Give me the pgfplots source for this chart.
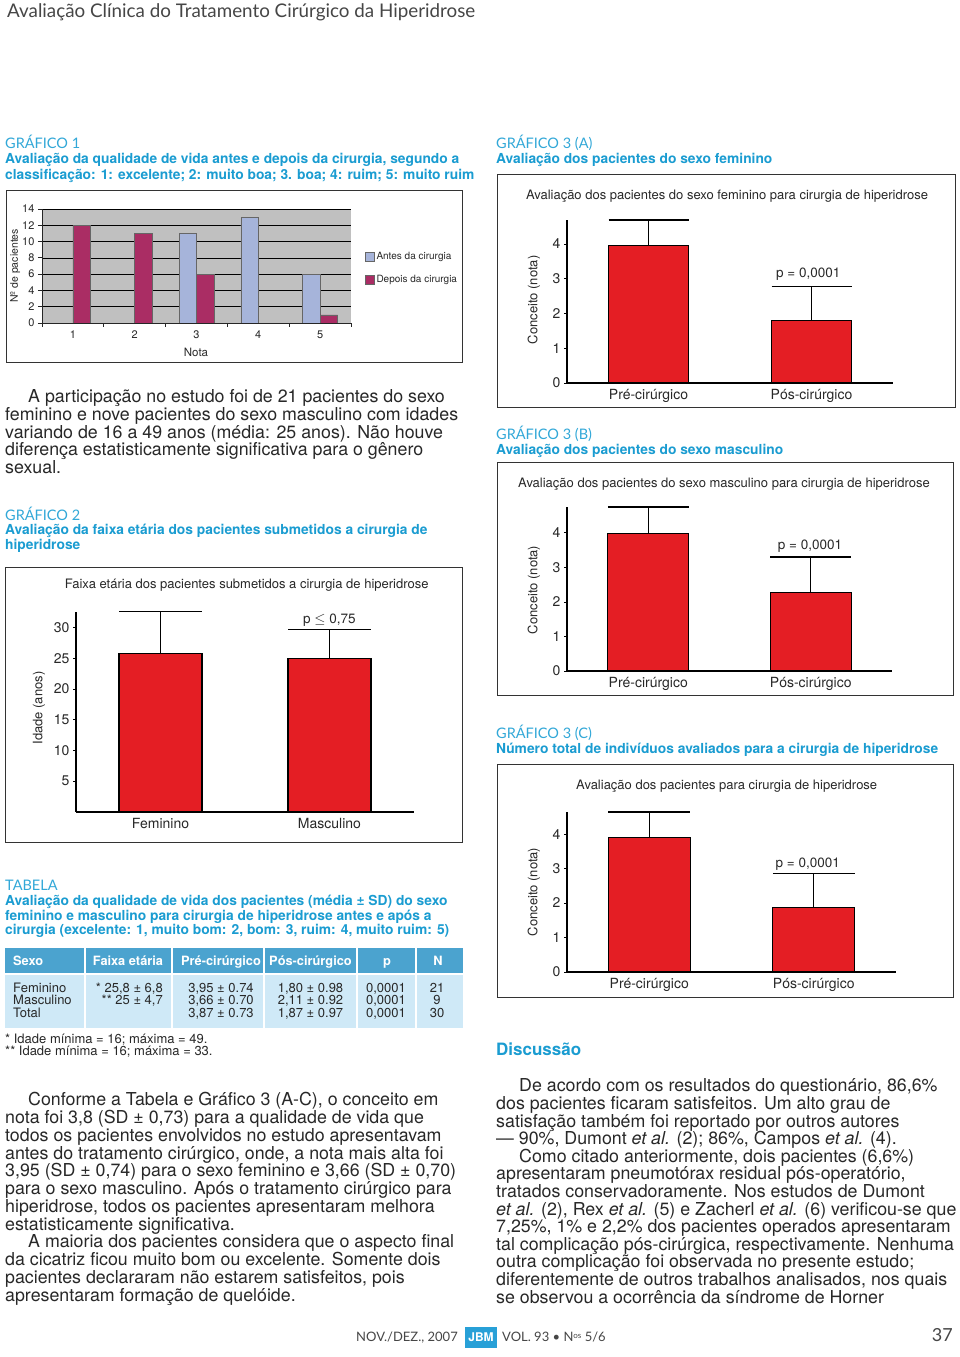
\documentclass[border=0pt]{standalone}
\usepackage{pgfplots}
\pgfplotsset{compat=1.18}
\usepackage{fontspec}
\setmainfont{TeX Gyre Heros}
\newfontfamily\headfont{Lato}
\definecolor{cyanT}{RGB}{26,156,209}
\definecolor{cyanL}{RGB}{50,168,216}
\definecolor{txt}{RGB}{40,40,40}
\definecolor{hdr}{RGB}{70,70,70}
\definecolor{barred}{RGB}{228,30,36}
\definecolor{antes}{RGB}{166,180,218}
\definecolor{depois}{RGB}{170,45,100}
\definecolor{plotgray}{RGB}{192,192,192}
\definecolor{thead}{RGB}{75,163,207}
\definecolor{tbody}{RGB}{207,233,247}
\definecolor{jbm}{RGB}{40,160,215}
\newcommand\bodyfont{\fontsize{17.8}{17.8}\selectfont}
\newcommand\capfont{\fontsize{13.8}{13.8}\selectfont\bfseries}
\newcommand\grafont{\headfont\fontsize{14.5}{14.5}\selectfont}
\newcommand\BL[3]{\node[anchor=base west,inner sep=0pt,font=\bodyfont,text=txt] at (#1pt,#2pt) {#3};}
\newcommand\CL[3]{\node[anchor=base west,inner sep=0pt,font=\capfont,text=cyanT] at (#1pt,#2pt) {#3};}
\newcommand\GL[3]{\node[anchor=base west,inner sep=0pt,font=\grafont,text=cyanL] at (#1pt,#2pt) {#3};}
\pgfplotsset{
  redbars/.style={
    scale only axis, anchor=south west,
    axis x line*=bottom, axis y line*=left,
    axis line style={line width=1.8pt, -, black},
    ymin=0, xmin=0.5, xmax=2.5,
    ybar, xtick={1,2},
    tick align=outside, major tick length=3pt,
    x tick style={draw=none},
    y tick style={line width=0.8pt, black},
    ticklabel style={font=\fontsize{14}{14}\selectfont, text=txt},
    /pgf/number format/assume math mode=true,
    clip=false,
  },
}
\begin{document}
\begin{tikzpicture}
\path[use as bounding box, fill=white] (0pt,0pt) rectangle (960pt,1357pt);
% page header
\node[anchor=base west,inner sep=0pt,font=\headfont\fontsize{18.8}{18.8}\selectfont,text=hdr] at (7pt,1339.5pt) {Avaliação Clínica do Tratamento Cirúrgico da Hiperidrose};

% ---------- GRAFICO 1 ----------
\GL{5}{1208}{GRÁFICO 1}
\CL{5}{1193}{Avaliação da qualidade de vida antes e depois da cirurgia, segundo a}
\CL{5}{1177.5}{classificação: 1: excelente; 2: muito boa; 3. boa; 4: ruim; 5: muito ruim}
\draw[black!80, line width=1pt] (6pt,994pt) rectangle (462pt,1166pt);
\begin{axis}[at={(42pt,1034pt)}, anchor=south west, scale only axis,
  width=309pt, height=114pt,
  xmin=0.5, xmax=5.5, ymin=0, ymax=14,
  ytick={0,2,...,14}, xtick={1,...,5},
  minor xtick={0.5,1.5,...,5.5},
  ybar=0pt, bar width=17.5pt,
  axis background/.style={fill=plotgray},
  ymajorgrids, grid style={black, line width=0.6pt},
  axis x line*=bottom, axis y line*=left,
  axis line style={black!85, line width=0.7pt, -},
  tick align=outside, major tick length=4pt, minor tick length=4pt,
  major x tick style={draw=none}, minor x tick style={black!85, line width=0.7pt},
  y tick style={black!85, line width=0.7pt},
  ticklabel style={font=\fontsize{11}{11}\selectfont, text=txt},
  /pgf/number format/assume math mode=true,
  legend style={at={(1.035,0.655)}, anchor=north west, draw=none, fill=none,
    font=\fontsize{10}{10}\selectfont, text=txt, row sep=10pt},
  legend cell align=left,
]
\addplot[fill=antes, draw=black!60, line width=0.5pt,
  legend image code/.code={\draw[fill=antes,draw=black!60] (0pt,-4.5pt) rectangle (9pt,4.5pt);}]
  coordinates {(3,11) (4,13) (5,6)};
\addplot[fill=depois, draw=black!60, line width=0.5pt,
  legend image code/.code={\draw[fill=depois,draw=black!60] (0pt,-4.5pt) rectangle (9pt,4.5pt);}]
  coordinates {(1,12) (2,11) (3,6) (5,1)};
\legend{Antes da cirurgia, Depois da cirurgia}
\end{axis}
\node[rotate=90, font=\fontsize{10.5}{10.5}\selectfont, text=txt] at (15pt,1091pt) {Nº de pacientes};
\node[font=\fontsize{11.5}{11.5}\selectfont, text=txt] at (196pt,1005pt) {Nota};

% ---------- text para 1 ----------
\BL{28}{954}{A participação no estudo foi de 21 pacientes do sexo}
\BL{5}{936.4}{feminino e nove pacientes do sexo masculino com idades}
\BL{5}{918.8}{variando de 16 a 49 anos (média: 25 anos). Não houve}
\BL{5}{901.2}{diferença estatisticamente significativa para o gênero}
\BL{5}{883.6}{sexual.}

% ---------- GRAFICO 2 ----------
\GL{5}{836.3}{GRÁFICO 2}
\CL{5}{822}{Avaliação da faixa etária dos pacientes submetidos a cirurgia de}
\CL{5}{807.7}{hiperidrose}
\draw[black!80, line width=1pt] (5pt,514pt) rectangle (462pt,789pt);
\node[anchor=base, font=\fontsize{13}{13}\selectfont, text=txt] at (246.7pt,768.7pt) {Faixa etária dos pacientes submetidos a cirurgia de hiperidrose};
\begin{axis}[redbars, at={(76pt,545pt)}, width=338pt, height=200pt, ymax=32.5,
  ytick={5,10,...,30}, xticklabels={Feminino,Masculino}, bar width=83pt]
\addplot[fill=barred, draw=black, line width=1.1pt,
  error bars/.cd, y dir=plus, y explicit, error mark=|,
  error bar style={line width=1.3pt, black},
  error mark options={line width=1.3pt, black, mark size=41.5pt}]
  coordinates {(1,25.8) +- (0,6.8) (2,25) +- (0,4.7)};
\end{axis}
\node[rotate=90, font=\fontsize{13}{13}\selectfont, text=txt] at (39pt,649pt) {Idade (anos)};
\node[anchor=base, font=\fontsize{13.5}{13.5}\selectfont, text=txt] at (329.3pt,733pt) {p $\leq$ 0,75};

% ---------- TABELA ----------
\GL{5}{466}{TABELA}
\CL{5}{451}{Avaliação da qualidade de vida dos pacientes (média ± SD) do sexo}
\CL{5}{436.3}{feminino e masculino para cirurgia de hiperidrose antes e após a}
\CL{5}{422}{cirurgia (excelente: 1, muito bom: 2, bom: 3, ruim: 4, muito ruim: 5)}
\fill[thead] (5pt,383pt) rectangle (463pt,409pt);
\fill[tbody] (5pt,329pt) rectangle (463pt,383pt);
\draw[white, line width=1.5pt] (5pt,383pt) -- (463pt,383pt);
\foreach \xx in {85,172,264,357,416} {\draw[white, line width=1.5pt] (\xx pt,329pt) -- (\xx pt,409pt);}
\begin{scope}[every node/.style={inner sep=0pt, font=\fontsize{12.8}{12.8}\selectfont\bfseries, text=white}]
\node[anchor=base west] at (13pt,391.3pt) {Sexo};
\node[anchor=base] at (128pt,391.3pt) {Faixa etária};
\node[anchor=base] at (221pt,391.3pt) {Pré-cirúrgico};
\node[anchor=base] at (310.5pt,391.3pt) {Pós-cirúrgico};
\node[anchor=base] at (387pt,391.3pt) {p};
\node[anchor=base] at (438pt,391.3pt) {N};
\end{scope}
\begin{scope}[every node/.style={inner sep=0pt, font=\fontsize{13}{13}\selectfont, text=txt}]
\node[anchor=base west] at (13pt,364.7pt) {Feminino};
\node[anchor=base west] at (13pt,352pt) {Masculino};
\node[anchor=base west] at (13pt,339.3pt) {Total};
\node[anchor=base east] at (163pt,364.7pt) {* 25,8 ± 6,8};
\node[anchor=base east] at (163pt,352pt) {** 25 ± 4,7};
\node[anchor=base] at (221pt,364.7pt) {3,95 ± 0.74};
\node[anchor=base] at (221pt,352pt) {3,66 ± 0.70};
\node[anchor=base] at (221pt,339.3pt) {3,87 ± 0.73};
\node[anchor=base] at (310.5pt,364.7pt) {1,80 ± 0.98};
\node[anchor=base] at (310.5pt,352pt) {2,11 ± 0.92};
\node[anchor=base] at (310.5pt,339.3pt) {1,87 ± 0.97};
\node[anchor=base] at (386pt,364.7pt) {0,0001};
\node[anchor=base] at (386pt,352pt) {0,0001};
\node[anchor=base] at (386pt,339.3pt) {0,0001};
\node[anchor=base] at (437pt,364.7pt) {21};
\node[anchor=base] at (437pt,352pt) {9};
\node[anchor=base] at (437pt,339.3pt) {30};
\node[anchor=base west] at (5pt,313.7pt) {* Idade mínima = 16; máxima = 49.};
\node[anchor=base west] at (5pt,301pt) {** Idade mínima = 16; máxima = 33.};
\end{scope}

% ---------- text para 2 ----------
\BL{28}{251}{Conforme a Tabela e Gráfico 3 (A-C), o conceito em}
\BL{5}{233.25}{nota foi 3,8 (SD ± 0,73) para a qualidade de vida que}
\BL{5}{215.5}{todos os pacientes envolvidos no estudo apresentavam}
\BL{5}{197.75}{antes do tratamento cirúrgico, onde, a nota mais alta foi}
\BL{5}{180}{3,95 (SD ± 0,74) para o sexo feminino e 3,66 (SD ± 0,70)}
\BL{5}{162.25}{para o sexo masculino. Após o tratamento cirúrgico para}
\BL{5}{144.5}{hiperidrose, todos os pacientes apresentaram melhora}
\BL{5}{126.75}{estatisticamente significativa.}
\BL{28}{109}{A maioria dos pacientes considera que o aspecto final}
\BL{5}{91.25}{da cicatriz ficou muito bom ou excelente. Somente dois}
\BL{5}{73.5}{pacientes declararam não estarem satisfeitos, pois}
\BL{5}{55.75}{apresentaram formação de quelóide.}

% ---------- GRAFICO 3 (A) ----------
\GL{496}{1208}{GRÁFICO 3 (A)}
\CL{496}{1193}{Avaliação dos pacientes do sexo feminino}
\draw[black!80, line width=1pt] (497pt,949pt) rectangle (955pt,1182pt);
\node[anchor=base, font=\fontsize{13}{13}\selectfont, text=txt] at (727pt,1157pt) {Avaliação dos pacientes do sexo feminino para cirurgia de hiperidrose};
\begin{axis}[redbars, at={(567pt,974pt)}, width=326pt, height=163pt, ymax=4.69,
  ytick={0,...,4}, xticklabels={Pré-cirúrgico,Pós-cirúrgico}, bar width=80pt]
\addplot[fill=barred, draw=black, line width=1.1pt,
  error bars/.cd, y dir=plus, y explicit, error mark=|,
  error bar style={line width=1.3pt, black},
  error mark options={line width=1.3pt, black, mark size=40pt}]
  coordinates {(1,3.95) +- (0,0.74) (2,1.80) +- (0,0.98)};
\end{axis}
\node[rotate=90, font=\fontsize{13}{13}\selectfont, text=txt] at (534pt,1057pt) {Conceito (nota)};
\node[anchor=base, font=\fontsize{13.5}{13.5}\selectfont, text=txt] at (808.3pt,1079.7pt) {p = 0,0001};

% ---------- GRAFICO 3 (B) ----------
\GL{496}{917}{GRÁFICO 3 (B)}
\CL{496}{902}{Avaliação dos pacientes do sexo masculino}
\draw[black!80, line width=1pt] (497pt,661pt) rectangle (953pt,894pt);
\node[anchor=base, font=\fontsize{13}{13}\selectfont, text=txt] at (724pt,869.3pt) {Avaliação dos pacientes do sexo masculino para cirurgia de hiperidrose};
\begin{axis}[redbars, at={(567pt,686pt)}, width=325pt, height=164pt, ymax=4.75,
  ytick={0,...,4}, xticklabels={Pré-cirúrgico,Pós-cirúrgico}, bar width=81pt]
\addplot[fill=barred, draw=black, line width=1.1pt,
  error bars/.cd, y dir=plus, y explicit, error mark=|,
  error bar style={line width=1.3pt, black},
  error mark options={line width=1.3pt, black, mark size=40.5pt}]
  coordinates {(1,3.98) +- (0,0.77) (2,2.27) +- (0,1.03)};
\end{axis}
\node[rotate=90, font=\fontsize{13}{13}\selectfont, text=txt] at (534pt,767pt) {Conceito (nota)};
\node[anchor=base, font=\fontsize{13.5}{13.5}\selectfont, text=txt] at (810pt,807.7pt) {p = 0,0001};

% ---------- GRAFICO 3 (C) ----------
\GL{496}{618.7}{GRÁFICO 3 (C)}
\CL{496}{603.7}{Número total de indivíduos avaliados para a cirurgia de hiperidrose}
\draw[black!80, line width=1pt] (497pt,359pt) rectangle (953pt,592pt);
\node[anchor=base, font=\fontsize{13}{13}\selectfont, text=txt] at (726.7pt,567pt) {Avaliação dos pacientes para cirurgia de hiperidrose};
\begin{axis}[redbars, at={(567pt,385pt)}, width=329pt, height=160pt, ymax=4.64,
  ytick={0,...,4}, xticklabels={Pré-cirúrgico,Pós-cirúrgico}, bar width=82pt]
\addplot[fill=barred, draw=black, line width=1.1pt,
  error bars/.cd, y dir=plus, y explicit, error mark=|,
  error bar style={line width=1.3pt, black},
  error mark options={line width=1.3pt, black, mark size=41pt}]
  coordinates {(1,3.90) +- (0,0.74) (2,1.87) +- (0,0.98)};
\end{axis}
\node[rotate=90, font=\fontsize{13}{13}\selectfont, text=txt] at (534pt,465pt) {Conceito (nota)};
\node[anchor=base, font=\fontsize{13.5}{13.5}\selectfont, text=txt] at (807.7pt,489.7pt) {p = 0,0001};

% ---------- Discussao ----------
\node[anchor=base west,inner sep=0pt,font=\fontsize{17}{17}\selectfont\bfseries,text=cyanT] at (496pt,301pt) {Discussão};
\BL{519}{265}{De acordo com os resultados do questionário, 86,6\%}
\BL{496}{247.4}{dos pacientes ficaram satisfeitos. Um alto grau de}
\BL{496}{229.8}{satisfação também foi reportado por outros autores}
\BL{496}{212.2}{— 90\%, Dumont \textit{et al.} (2); 86\%, Campos \textit{et al.} (4).}
\BL{519}{194.6}{Como citado anteriormente, dois pacientes (6,6\%)}
\BL{496}{177}{apresentaram pneumotórax residual pós-operatório,}
\BL{496}{159.4}{tratados conservadoramente. Nos estudos de Dumont}
\BL{496}{141.8}{\textit{et al.} (2), Rex \textit{et al.} (5) e Zacherl \textit{et al.} (6) verificou-se que}
\BL{496}{124.2}{7,25\%, 1\% e 2,2\% dos pacientes operados apresentaram}
\BL{496}{106.6}{tal complicação pós-cirúrgica, respectivamente. Nenhuma}
\BL{496}{89}{outra complicação foi observada no presente estudo;}
\BL{496}{71.4}{diferentemente de outros trabalhos analisados, nos quais}
\BL{496}{53.8}{se observou a ocorrência da síndrome de Horner}

% ---------- footer ----------
\node[anchor=base west,inner sep=0pt,font=\headfont\fontsize{13}{13}\selectfont,text=hdr] at (356pt,15pt) {NOV./DEZ., 2007};
\fill[jbm] (465pt,9pt) rectangle (497pt,30pt);
\node[font=\fontsize{12}{12}\selectfont\bfseries,text=white] at (481pt,19.5pt) {JBM};
\node[anchor=base west,inner sep=0pt,font=\headfont\fontsize{13}{13}\selectfont,text=hdr] at (502pt,15pt) {VOL. 93 • N\raisebox{3pt}{\fontsize{8}{8}\selectfont os} 5/6};
\node[anchor=base east,inner sep=0pt,font=\headfont\fontsize{18}{18}\selectfont,text=hdr] at (953pt,15pt) {37};
\end{tikzpicture}
\end{document}
